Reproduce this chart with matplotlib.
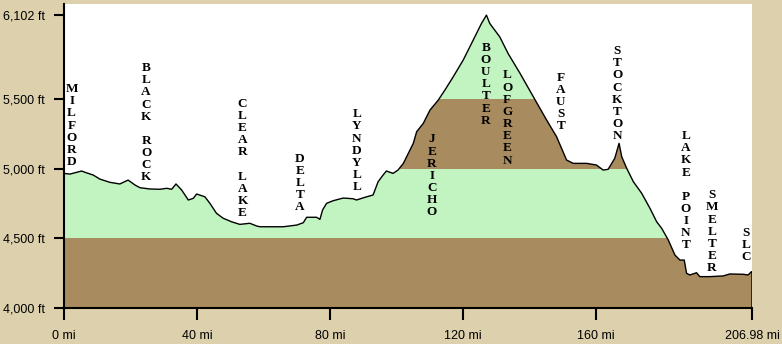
import numpy as np
import matplotlib.pyplot as plt
from matplotlib.patches import Polygon

# route profile: miles from Milford vs elevation (ft)
miles = [0.0, 1.8, 5.3, 6.3, 8.8, 10.8, 13.8, 16.8, 19.3, 21.4, 22.9, 25.9, 28.9,
         30.9, 32.4, 33.7, 35.4, 37.4, 38.9, 39.9, 42.4, 43.9, 45.9, 47.9, 50.4,
         52.9, 55.9, 58.0, 59.0, 62.0, 66.0, 70.0, 72.0, 73.0, 76.0, 77.0, 77.8,
         79.0, 81.0, 84.0, 87.0, 88.0, 90.5, 93.0, 94.5, 96.0, 97.0, 99.0, 100.5,
         102.1, 103.6, 105.1, 106.1, 108.1, 110.1, 112.6, 114.6, 117.1, 120.1,
         123.1, 125.6, 127.1, 128.1, 131.1, 133.6, 137.2, 141.2, 145.2, 148.2,
         151.2, 153.2, 157.2, 160.2, 162.2, 163.7, 165.7, 167.0, 167.8, 169.3,
         171.3, 173.8, 176.3, 178.3, 179.8, 181.8, 183.8, 185.3, 186.6, 187.3,
         188.3, 190.3, 191.3, 194.3, 198.3, 200.3, 204.3, 205.8, 206.8, 206.98]
elev = [4966, 4961, 4983, 4974, 4954, 4925, 4902, 4890, 4918, 4882, 4863, 4854, 4852,
        4859, 4852, 4890, 4847, 4775, 4787, 4818, 4798, 4751, 4679, 4644, 4619,
        4600, 4608, 4588, 4583, 4583, 4583, 4595, 4612, 4651, 4651, 4636, 4703,
        4751, 4770, 4789, 4784, 4775, 4794, 4811, 4906, 4954, 4983, 4966, 4990,
        5038, 5110, 5182, 5265, 5325, 5420, 5492, 5564, 5659, 5779,
        5922, 6042, 6102, 6042, 5946, 5827, 5684, 5516, 5349, 5229,
        5062, 5038, 5038, 5026, 4990, 4995, 5074, 5182, 5085, 5002,
        4906, 4823, 4715, 4619, 4572, 4488, 4380, 4344, 4344, 4249,
        4237, 4253, 4225, 4225, 4230, 4244, 4242, 4237, 4260, 4260]

bands = [(4000, 4500), (4500, 5000), (5000, 5500), (5500, 6200)]
band_colors = ['#A88B5E', '#C2F4C2', '#A88B5E', '#C2F4C2']

yticks = [4000, 4500, 5000, 5500, 6102]
ytick_labels = ['4,000 ft', '4,500 ft', '5,000 ft', '5,500 ft', '6,102 ft']
xticks = [0, 40, 80, 120, 160, 206.98]
xtick_labels = ['0 mi', '40 mi', '80 mi', '120 mi', '160 mi', '206.98 mi']

# place names: label, mile, elevation of top letter
places = ['MILFORD', 'BLACK ROCK', 'CLEAR LAKE', 'DELTA', 'LYNDYLL', 'JERICHO',
          'BOULTER', 'LOFGREEN', 'FAUST', 'STOCKTON', 'LAKE POINT', 'SMELTER', 'SLC']
place_mi = [2.3, 24.7, 53.7, 71.0, 88.1, 110.7, 126.9, 133.3, 149.5, 166.4, 187.1, 194.9, 205.2]
place_top = [5614, 5765, 5510, 5114, 5433, 5253, 5910, 5712, 5695, 5887, 5277, 4852, 4583]

bg = '#DDD0AC'
fig = plt.figure(figsize=(7.82, 3.44), dpi=100, facecolor=bg)
ax = fig.add_axes([0.0818, 0.1047, 0.8798, 0.885])
ax.set_facecolor('white')

verts = [(miles[0], 4000)] + list(zip(miles, elev)) + [(miles[-1], 4000)]
clip = Polygon(verts, closed=True, transform=ax.transData, facecolor='none', edgecolor='none')
ax.add_patch(clip)
for (lo, hi), c in zip(bands, band_colors):
    span = ax.axhspan(lo, hi, color=c, lw=0, zorder=1)
    span.set_clip_path(clip)

ax.plot(miles + [miles[-1]], elev + [4000], color='black', lw=1.0, zorder=3)

ax.set_xlim(0, 206.98)
ax.set_ylim(4000, 6185)

for s in ['top', 'right']:
    ax.spines[s].set_visible(False)
for s in ['left', 'bottom']:
    ax.spines[s].set_linewidth(1.5)
    ax.spines[s].set_zorder(4)

sans = ['Liberation Sans', 'DejaVu Sans']
ax.set_yticks(yticks)
ax.set_yticklabels(ytick_labels, family=sans, fontsize=9)
ax.set_xticks(xticks)
ax.set_xticklabels(xtick_labels, family=sans, fontsize=9)
ax.tick_params(axis='y', direction='out', length=7.5, width=1.5, pad=6)
ax.tick_params(axis='x', direction='out', length=8.6, width=1.5, pad=7)

for name, m, top in zip(places, place_mi, place_top):
    for i, ch in enumerate(name):
        if ch == ' ':
            continue
        ax.annotate(ch, (m, top), xytext=(0, -i * 8.75), textcoords='offset points',
                    ha='center', va='top', fontsize=9.5, fontweight='bold',
                    family=['Liberation Serif', 'DejaVu Serif'], zorder=5)

fig.savefig('out.png', dpi=100, facecolor=bg)
